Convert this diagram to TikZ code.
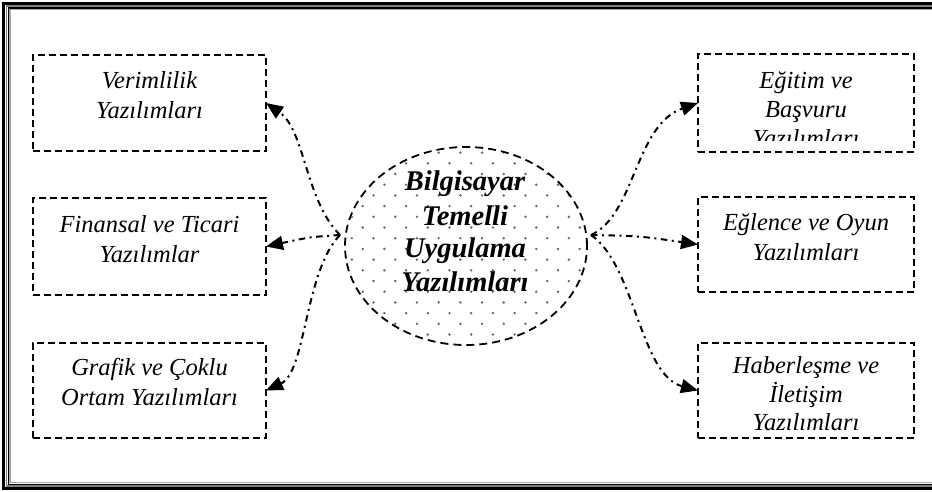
\documentclass[tikz,border=0pt]{standalone}
\usepackage{fontspec}
\setmainfont{Liberation Serif}
\usetikzlibrary{arrows.meta,shapes.geometric,calc}
\begin{document}
\begin{tikzpicture}[x=1pt,y=-1pt,
  boxtxt/.style={font=\fontsize{24.5}{30}\selectfont\itshape, anchor=base, inner sep=0pt},
  hubtxt/.style={font=\fontsize{28.5}{34}\selectfont\bfseries\itshape, anchor=base, inner sep=0pt},
  dbox/.style={draw, line width=2pt, dash pattern=on 7pt off 4pt, minimum height=95pt, inner sep=0pt, outer sep=0pt},
  lbox/.style={dbox, minimum width=233pt},
  rbox/.style={dbox, minimum width=216pt},
  conn/.style={line width=2pt, dash pattern=on 6.5pt off 4.5pt on 2pt off 4.5pt, -{Triangle[length=17pt,width=14pt]}},
]
\useasboundingbox (0,0) rectangle (932,491);
% frame
\draw[line width=3pt] (3.8,3.3) rectangle (960,488.3);
\draw[gray, line width=1.8pt] (6.4,6) rectangle (960,486);
\draw[line width=1.4pt] (8.2,7.9) rectangle (960,484.2);
\draw[gray!70, line width=1.4pt] (9.9,9.5) rectangle (960,482.6);

% dotted fill of hub
\begin{scope}
\clip (466,246) ellipse [x radius=120, y radius=98];
\foreach \k in {0,...,19} {
  \foreach \m in {0,...,12} {
    \fill[black!60] ({341+21.7*\m+10.85*mod(\k+1,2)}, {152.6+10.7*\k}) circle (1.35pt);
  }
}
\end{scope}
\node[ellipse, draw, line width=1.8pt, dash pattern=on 8pt off 5pt, minimum width=242pt, minimum height=198pt, inner sep=0pt, outer sep=0pt] (c) at (466,246) {};
\node[hubtxt] (h1) at (465,190.5) {Bilgisayar};
\node[hubtxt] (h2) at (465,225) {Temelli};
\node[hubtxt] (h3) at (465,257) {Uygulama};
\node[hubtxt] (h4) at (465,291) {Yazılımları};

% left boxes
\node[lbox, minimum height=96pt] (b1) at (149.5,103) {};
\node[boxtxt] (b1a) at (149.5,88) {Verimlilik};
\node[boxtxt] (b1b) at (149.5,118) {Yazılımları};

\node[lbox, minimum height=97pt] (b2) at (149.5,246.5) {};
\node[boxtxt] (b2a) at (149.5,232) {Finansal ve Ticari};
\node[boxtxt] (b2b) at (149.5,262) {Yazılımlar};

\node[lbox] (b3) at (149.5,390.5) {};
\node[boxtxt] (b3a) at (149.5,375) {Grafik ve Çoklu};
\node[boxtxt] (b3b) at (149.5,405) {Ortam Yazılımları};

% right boxes
\node[rbox, minimum height=98pt] (r1) at (806,103) {};
\node[boxtxt] (r1a) at (806,88) {Eğitim ve};
\node[boxtxt] (r1b) at (806,117) {Başvuru};
\begin{scope}
\clip (698,54) rectangle (914,140.5);
\node[boxtxt] (r1c) at (806,146) {Yazılımları};
\end{scope}

\node[rbox] (r2) at (806,244.5) {};
\node[boxtxt] (r2a) at (806,230) {Eğlence ve Oyun};
\node[boxtxt] (r2b) at (806,260) {Yazılımları};

\node[rbox] (r3) at (806,390.5) {};
\node[boxtxt] (r3a) at (806,373) {Haberleşme ve};
\node[boxtxt] (r3b) at (806,402) {İletişim};
\node[boxtxt] (r3c) at (806,430) {Yazılımları};

% connectors
\coordinate (lh) at ($(c.west)+(-5,-11)$);
\coordinate (rh) at ($(c.east)+(4,-11)$);
\draw[conn] (lh) .. controls (305,200) and (305,130) .. (b1.east);
\draw[conn] (lh) .. controls (310,237) .. (b2.east);
\draw[conn] (lh) .. controls (305,270) and (306,372) .. (b3.east);
\draw[conn] (rh) .. controls (635,215) and (635,125) .. (r1.west);
\draw[conn] (rh) .. controls (640,236) .. (r2.west);
\draw[conn] (rh) .. controls (635,265) and (640,375) .. (r3.west);
\end{tikzpicture}
\end{document}
